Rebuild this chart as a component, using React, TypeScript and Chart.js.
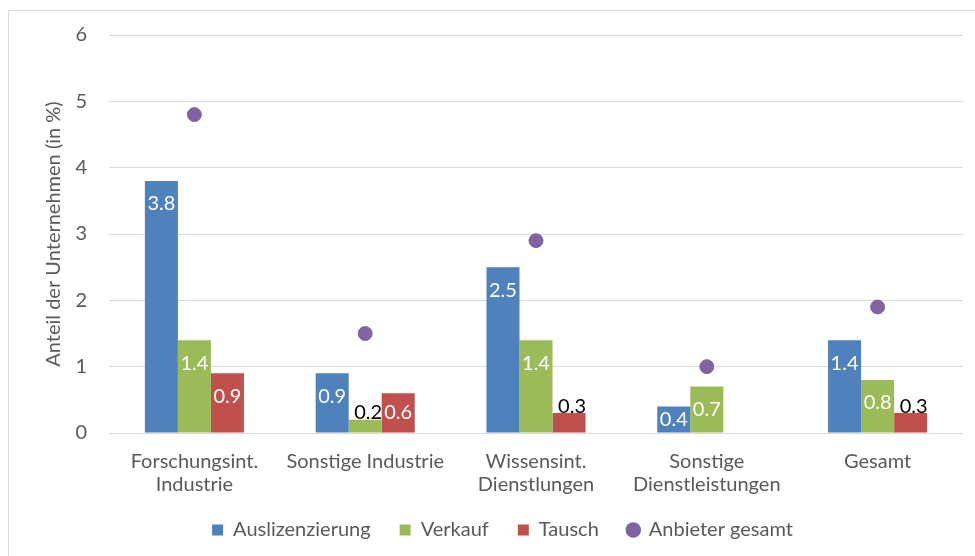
import React, { useEffect, useRef } from "react";
import { Chart, registerables } from "chart.js";

Chart.register(...registerables);

const categories: (string | string[])[] = [
  ["Forschungsint.", "Industrie"],
  "Sonstige Industrie",
  ["Wissensint.", "Dienstlungen"],
  ["Sonstige", "Dienstleistungen"],
  "Gesamt",
];
const auslizenzierung = [3.8, 0.9, 2.5, 0.4, 1.4];
const verkauf = [1.4, 0.2, 1.4, 0.7, 0.8];
const tausch: (number | null)[] = [0.9, 0.6, 0.3, null, 0.3];
const anbieterGesamt = [4.8, 1.5, 2.9, 1.0, 1.9];
const yTicks = [0, 1, 2, 3, 4, 5, 6];

const FONT = "Lato";
const FS = 20;
const TEXT = "#595959";
const GRID = "#d9d9d9";

const LEGEND_H = 56;
const LEGEND_SHIFT_Y = -9;
const LEGEND_SHIFT_X = 21;

const framePlugin = {
  id: "frame",
  afterInit(chart: any) {
    const legend = chart.legend;
    if (legend && !legend.__patched) {
      const origFit = legend.fit.bind(legend);
      legend.fit = function () {
        origFit();
        this.height = LEGEND_H;
      };
      const origDraw = legend.draw.bind(legend);
      legend.draw = function () {
        const ctx = this.ctx;
        ctx.save();
        ctx.translate(LEGEND_SHIFT_X, LEGEND_SHIFT_Y);
        origDraw();
        ctx.restore();
      };
      legend.__patched = true;
    }
  },
  beforeDraw(chart: any) {
    const ctx = chart.ctx;
    ctx.save();
    ctx.strokeStyle = GRID;
    ctx.lineWidth = 1;
    ctx.beginPath();
    ctx.moveTo(8, 10.5);
    ctx.lineTo(chart.width, 10.5);
    ctx.moveTo(8.5, 10);
    ctx.lineTo(8.5, chart.height);
    ctx.stroke();
    ctx.restore();
  },
};

const labelPlugin = {
  id: "barLabels",
  afterDatasetsDraw(chart: any) {
    const ctx = chart.ctx;
    ctx.save();
    ctx.font = `${FS}px ${FONT}`;
    ctx.textAlign = "center";
    ctx.textBaseline = "middle";
    for (let d = 0; d < 3; d++) {
      const meta = chart.getDatasetMeta(d);
      const data = chart.data.datasets[d].data;
      meta.data.forEach((el: any, i: number) => {
        const v = data[i];
        if (v === null || v === undefined || v === 0) return;
        const top = el.y;
        const base = el.base;
        const h = base - top;
        const txt = Number(v).toFixed(1);
        if (h >= 22) {
          ctx.fillStyle = "#ffffff";
          ctx.fillText(txt, el.x, Math.min(top + 23, (top + base) / 2));
        } else {
          ctx.fillStyle = "#000000";
          ctx.fillText(txt, el.x + 3, top - 7);
        }
      });
    }
    ctx.restore();
  },
};

export default function App() {
  const ref = useRef<HTMLCanvasElement>(null);
  useEffect(() => {
    document.body.style.margin = "0";
    if (!ref.current) return;
    const chart = new Chart(ref.current, {
      type: "bar",
      data: {
        labels: categories,
        datasets: [
          {
            label: "Auslizenzierung",
            data: auslizenzierung,
            backgroundColor: "#4F81BD",
            categoryPercentage: 0.58,
            barPercentage: 1.0,
            order: 2,
          },
          {
            label: "Verkauf",
            data: verkauf,
            backgroundColor: "#9BBB59",
            categoryPercentage: 0.58,
            barPercentage: 1.0,
            order: 2,
          },
          {
            label: "Tausch",
            data: tausch,
            backgroundColor: "#C0504D",
            categoryPercentage: 0.58,
            barPercentage: 1.0,
            order: 2,
          },
          {
            type: "line",
            label: "Anbieter gesamt",
            data: anbieterGesamt,
            showLine: false,
            pointRadius: 7,
            pointHoverRadius: 7,
            pointBackgroundColor: "#8064A2",
            pointBorderColor: "#8064A2",
            backgroundColor: "#8064A2",
            borderColor: "#8064A2",
            pointStyle: "circle",
            order: 1,
          } as any,
        ],
      },
      options: {
        responsive: false,
        animation: false,
        layout: { padding: { left: 0, right: 12, top: 35, bottom: 0 } },
        plugins: {
          tooltip: { enabled: false },
          legend: {
            position: "bottom",
            labels: {
              font: { family: FONT, size: FS },
              color: TEXT,
              usePointStyle: true,
              boxWidth: 11,
              boxHeight: 11,
              padding: 29,
              generateLabels(chart: any) {
                return chart.data.datasets.map((ds: any, i: number) => ({
                  text: ds.label,
                  fillStyle: ds.backgroundColor,
                  strokeStyle: ds.backgroundColor,
                  lineWidth: 0,
                  pointStyle: i === 3 ? "circle" : "rect",
                  fontColor: TEXT,
                  hidden: false,
                  datasetIndex: i,
                }));
              },
            },
          },
        },
        scales: {
          x: {
            grid: { display: false, drawTicks: false },
            border: { display: false },
            ticks: {
              font: { family: FONT, size: FS, lineHeight: 1.15 },
              color: TEXT,
              padding: 17,
              maxRotation: 0,
              autoSkip: false,
            },
            afterFit(scale: any) {
              scale.height = 556 - LEGEND_H - 433;
            },
          },
          y: {
            min: yTicks[0],
            max: yTicks[yTicks.length - 1],
            grid: { color: GRID, lineWidth: 1, drawTicks: false },
            border: { display: false },
            ticks: {
              stepSize: 1,
              font: { family: FONT, size: FS },
              color: TEXT,
              padding: 22,
            },
            title: {
              display: true,
              text: "Anteil der Unternehmen (in %)",
              font: { family: FONT, size: FS },
              color: TEXT,
              padding: { top: 42, bottom: 0 },
            },
            afterFit(scale: any) {
              scale.width = 109;
            },
          },
        },
      },
      plugins: [framePlugin, labelPlugin],
    });
    return () => chart.destroy();
  }, []);
  return (
    <div style={{ width: 975, height: 556 }}>
      <canvas ref={ref} width={975} height={556} />
    </div>
  );
}
